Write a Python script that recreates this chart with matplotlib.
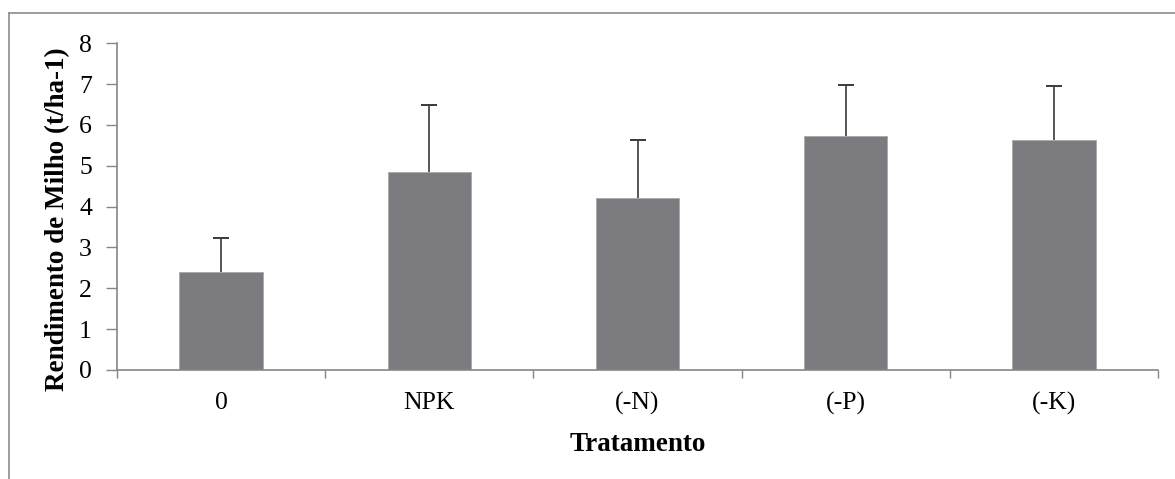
import matplotlib
matplotlib.use("Agg")
import matplotlib.pyplot as plt
from matplotlib.lines import Line2D

categories = ["0", "NPK", "(-N)", "(-P)", "(-K)"]
values = [2.39, 4.84, 4.21, 5.72, 5.63]
errors = [0.84, 1.66, 1.43, 1.25, 1.32]

plt.rcParams['font.family'] = ['Liberation Serif', 'DejaVu Serif']

fig = plt.figure(figsize=(11.75, 4.79), dpi=100)
ax = fig.add_axes([117/1175, 1-370/479, (1158-117)/1175, (370-43.3)/479])

x = list(range(len(categories)))
tops = [v + e for v, e in zip(values, errors)]
ax.bar(x, values, width=0.4, color="#7c7c80", edgecolor="#a8a8ab", linewidth=0.6, zorder=2)
ax.vlines(x, values, tops, color="#3a3a3a", lw=1.2, zorder=3)
ax.plot(x, tops, linestyle="none", marker="_", markersize=12, markeredgewidth=1.4,
        color="#3a3a3a", zorder=3)

ax.set_xlim(-0.5, len(categories)-0.5)
ax.set_ylim(0, 8)
ax.set_yticks(range(0, 9))
ax.set_xticks(x)
ax.set_xticklabels(categories, fontsize=18.5)
ax.tick_params(axis='x', length=0, pad=16)
ax.tick_params(axis='y', labelsize=18.5, length=8, width=1, color="#868686", pad=10)
ax.set_xticks([i - 0.5 for i in range(len(categories)+1)], minor=True)
ax.tick_params(axis='x', which='minor', length=6, width=1, color="#868686", direction='out')

for s in ['top', 'right']:
    ax.spines[s].set_visible(False)
for s in ['left', 'bottom']:
    ax.spines[s].set_color("#868686")
    ax.spines[s].set_linewidth(1.2)

ax.set_ylabel("Rendimento de Milho (t/ha-1)", fontsize=19.5, fontweight='bold')
ax.yaxis.set_label_coords(-0.0451, 0.462)
ax.set_xlabel("Tratamento", fontsize=19.5, fontweight='bold', labelpad=12)

fig.add_artist(Line2D([9/1175, 1.0], [1-13/479, 1-13/479], transform=fig.transFigure, color="#8c8c8c", lw=1.2))
fig.add_artist(Line2D([9/1175, 9/1175], [0, 1-13/479], transform=fig.transFigure, color="#8c8c8c", lw=1.2))

fig.savefig("out.png", dpi=100, facecolor="white")
